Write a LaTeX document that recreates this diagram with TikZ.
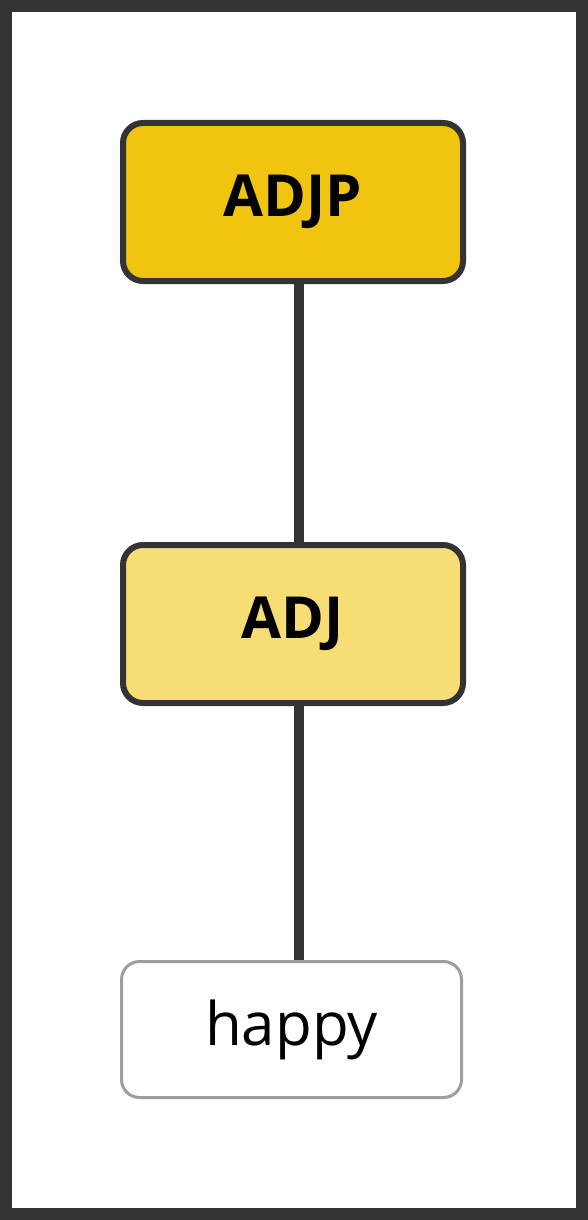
\documentclass[tikz,border=0pt]{standalone}
\usepackage{fontspec}
\setmainfont{Open Sans}
\definecolor{dark}{HTML}{333333}
\definecolor{gold}{HTML}{F1C40F}
\definecolor{lightgold}{HTML}{F7DD76}
\definecolor{leafgray}{HTML}{9E9E9E}
\tikzset{
  phrase/.style={draw=dark, line width=6pt, rounded corners=20pt, minimum width=340pt, minimum height=158pt, font=\fontsize{58pt}{62pt}\selectfont\bfseries, text=black},
  leaf/.style={draw=leafgray, line width=3pt, rounded corners=18pt, fill=white, minimum width=340pt, minimum height=136pt, font=\fontsize{60pt}{64pt}\selectfont, text=black},
  edge/.style={draw=dark, line width=10pt}
}
\begin{document}
\begin{tikzpicture}[x=1pt,y=1pt]
\useasboundingbox (0,0) rectangle (588,-1220);
\fill[white] (0,0) rectangle (588,-1220);
\draw[dark, line width=12pt] (6,-6) rectangle (582,-1214);
\node[phrase, fill=gold] (adjp) at (293,-202) {ADJP};
\node[phrase, fill=lightgold] (adj) at (293,-624) {ADJ};
\node[leaf] (happy) at (291.5,-1029.5) {happy};
\draw[edge] ([xshift=5.5pt]adjp.south) -- ([xshift=5.5pt]adj.north);
\draw[edge] ([xshift=5.5pt]adj.south) -- ([xshift=7pt]happy.north);
\end{tikzpicture}
\end{document}
